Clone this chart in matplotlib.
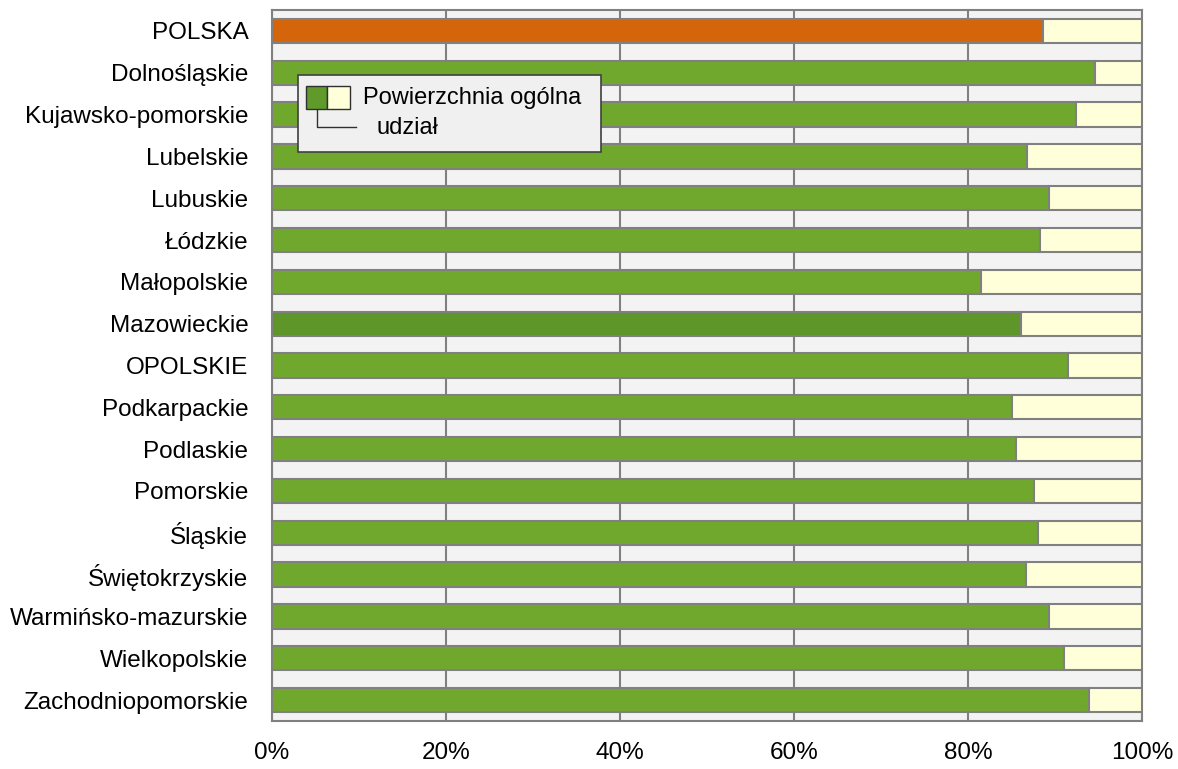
import numpy as np
import matplotlib
matplotlib.use("Agg")
import matplotlib.pyplot as plt
from matplotlib.patches import Rectangle
from matplotlib.lines import Line2D

plt.rcParams['font.family'] = ['Liberation Sans', 'DejaVu Sans']

regions = ['POLSKA', 'Dolnośląskie', 'Kujawsko-pomorskie', 'Lubelskie', 'Lubuskie',
           'Łódzkie', 'Małopolskie', 'Mazowieckie', 'OPOLSKIE', 'Podkarpackie',
           'Podlaskie', 'Pomorskie', 'Śląskie', 'Świętokrzyskie',
           'Warmińsko-mazurskie', 'Wielkopolskie', 'Zachodniopomorskie']
share = [88.6, 94.6, 92.4, 86.8, 89.3, 88.3, 81.5, 86.1, 91.5, 85.1,
         85.5, 87.6, 88.0, 86.7, 89.3, 91.0, 93.9]
xticks = [0, 20, 40, 60, 80, 100]

green = '#70a82e'
colors = [green] * len(regions)
colors[0] = '#d4650a'
colors[7] = '#5f962a'
rest = [100 - v for v in share]

fig = plt.figure(figsize=(11.78, 7.69), dpi=100)
ax = fig.add_axes([0.2309, 0.0624, 0.7385, 0.9246])
ax.set_facecolor('#f3f3f3')

y = np.arange(len(regions))
ax.barh(y, share, height=0.58, color=colors, edgecolor='#808080', linewidth=1.5, zorder=3)
ax.barh(y, rest, left=share, height=0.58, color='#ffffd9', edgecolor='#808080',
        linewidth=1.5, zorder=3)

ax.set_xlim(0, 100)
ax.set_ylim(len(regions) - 0.5, -0.5)
ax.set_xticks(xticks)
ax.set_xticklabels([f'{t}%' for t in xticks])
ax.set_yticks(y)
ax.set_yticklabels(regions)
ax.tick_params(axis='x', length=0, pad=15, labelsize=17.5)
ax.tick_params(axis='y', length=0, pad=17, labelsize=17.5)
ax.grid(axis='x', color='#808080', linewidth=1.5, zorder=1)
for s in ax.spines.values():
    s.set_color('#808080')
    s.set_linewidth(1.5)

# custom legend box
W, H = 1178.0, 769.0
def fx(px):
    return px / W
def fy(py):
    return 1 - py / H

fig.patches.append(Rectangle((fx(298), fy(152)), fx(601) - fx(298), fy(75) - fy(152),
                             transform=fig.transFigure, facecolor='#f0f0f0',
                             edgecolor='#404040', linewidth=1.2, zorder=10))
fig.patches.append(Rectangle((fx(306), fy(109)), fx(327) - fx(306), fy(86) - fy(109),
                             transform=fig.transFigure, facecolor='#5f9a2a',
                             edgecolor='#303030', linewidth=1, zorder=11))
fig.patches.append(Rectangle((fx(327), fy(109)), fx(350) - fx(327), fy(86) - fy(109),
                             transform=fig.transFigure, facecolor='#ffffd9',
                             edgecolor='#303030', linewidth=1, zorder=11))
fig.lines.append(Line2D([fx(317), fx(317), fx(356)], [fy(109), fy(127), fy(127)],
                        transform=fig.transFigure, color='#303030', linewidth=1, zorder=11))
fig.text(fx(363), fy(98), 'Powierzchnia ogólna', fontsize=17, va='center', ha='left', zorder=12)
fig.text(fx(377), fy(128), 'udział', fontsize=17, va='center', ha='left', zorder=12)

fig.savefig('out.png', dpi=100)
